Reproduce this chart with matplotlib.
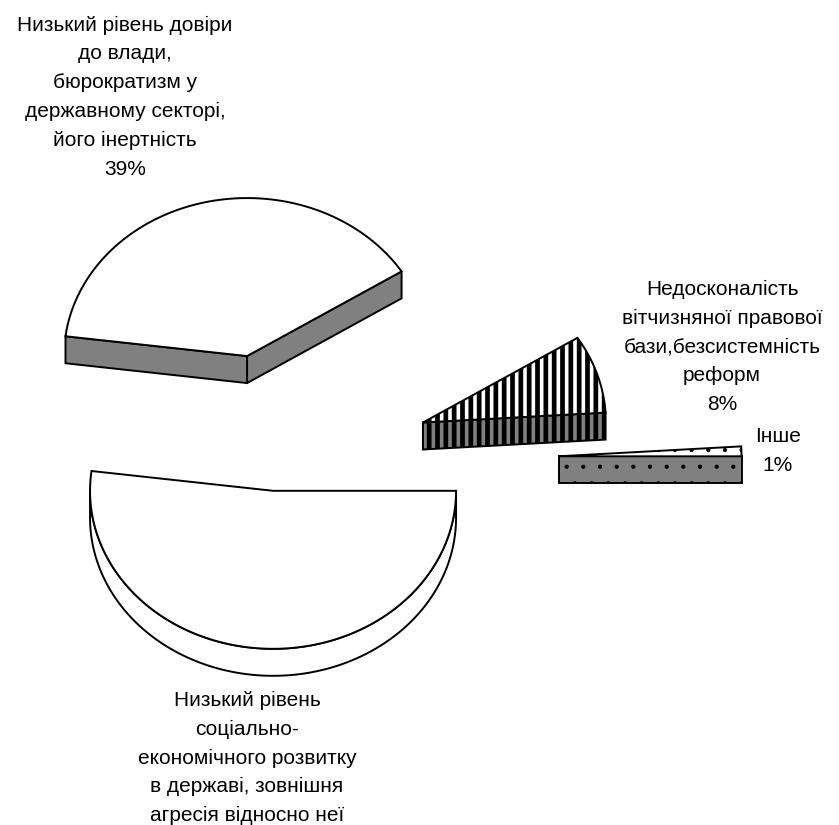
import numpy as np
import matplotlib
matplotlib.use("Agg")
import matplotlib.pyplot as plt
from matplotlib.patches import Polygon

# slices in drawing order, counterclockwise from 0 degrees
shares = [1, 8, 39, 52]
names = [
    "Інше",
    "Недосконалість\nвітчизняної правової\nбази,безсистемність\nреформ",
    "Низький рівень довіри\nдо влади,\nбюрократизм у\nдержавному секторі,\nйого інертність",
    "Низький рівень\nсоціально-\nекономічного розвитку\nв державі, зовнішня\nагресія відносно неї",
]
show_pct = [True, True, True, False]   # last percentage is off the bottom edge
explode = [1.55, 0.85, 0.70, 0.17]

# look of each slice
top_colors = ["white", "white", "white", "white"]
side_colors = ["#808080", "#808080", "#808080", "white"]
hatches = [".", "||", None, None]
hatch_lw = [0.6, 3.4, 1.0, 1.0]

# label anchor (pixel space of the 839x825 canvas)
label_pos = [(778, 451), (722, 347), (125, 97), (247, 758)]

W, H = 839, 825
CX, CY = 275, 464      # pie centre
RX, RY = 183, 158      # projected radii
DEPTH = 27             # slab thickness

plt.rcParams["font.family"] = ["Liberation Sans", "DejaVu Sans"]

fig = plt.figure(figsize=(W / 100, H / 100), dpi=100)
ax = fig.add_axes([0, 0, 1, 1])
ax.set_xlim(0, W)
ax.set_ylim(H, 0)
ax.axis("off")


def arc(x0, y0, a1, a2, dy=0.0):
    t = np.radians(np.linspace(a1, a2, max(int(abs(a2 - a1) * 2), 2)))
    return np.column_stack([x0 + RX * np.cos(t), y0 - RY * np.sin(t) + dy])


def add_face(pts, fc, hatch, hlw):
    p = Polygon(pts, closed=True, facecolor=fc, edgecolor="black",
                linewidth=1.4, hatch=hatch, joinstyle="miter")
    if hatch and hasattr(p, "set_hatch_linewidth"):
        p.set_hatch_linewidth(hlw)
    ax.add_patch(p)


starts = np.concatenate([[0], np.cumsum(shares)[:-1]]) / sum(shares) * 360
ends = np.cumsum(shares) / sum(shares) * 360

slices = []
for i in range(len(shares)):
    a1, a2 = starts[i], ends[i]
    mid = np.radians((a1 + a2) / 2)
    x0 = CX + explode[i] * RX * np.cos(mid)
    y0 = CY - explode[i] * RY * np.sin(mid)
    slices.append((y0, i, x0, a1, a2))

# back to front
for y0, i, x0, a1, a2 in sorted(slices):
    fc_side, fc_top = side_colors[i], top_colors[i]
    h, hl = hatches[i], hatch_lw[i]
    centre = np.array([[x0, y0]])
    # radial side walls facing the viewer
    for a, visible in ((a1, np.cos(np.radians(a1)) > 1e-9),
                       (a2, np.cos(np.radians(a2)) < -1e-9)):
        if visible:
            rim = arc(x0, y0, a, a, 0)[:1]
            wall = np.vstack([centre, rim, rim + [0, DEPTH], centre + [0, DEPTH]])
            add_face(wall, fc_side, h, hl)
    # curved outer wall (front half only)
    s, e = max(a1, 180), min(a2, 360)
    if e > s:
        top_edge = arc(x0, y0, s, e)
        wall = np.vstack([top_edge, arc(x0, y0, e, s, DEPTH)])
        add_face(wall, fc_side, h, hl)
    # top face
    add_face(np.vstack([centre, arc(x0, y0, a1, a2)]), fc_top, h, hl)

for i, (lx, ly) in enumerate(label_pos):
    txt = names[i] + (f"\n{shares[i]}%" if show_pct[i] else "")
    ax.text(lx, ly, txt, ha="center", va="center", multialignment="center",
            fontsize=15, linespacing=1.65, color="black")

fig.savefig("out.png", dpi=100, facecolor="white")
